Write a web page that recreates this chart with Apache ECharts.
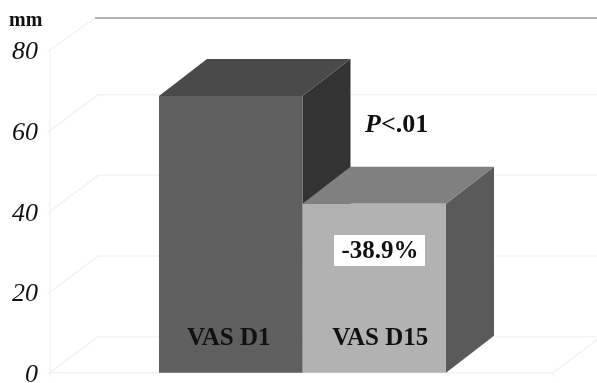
<!DOCTYPE html>
<html>
<head>
<meta charset="utf-8">
<style>html,body{margin:0;padding:0;background:#fff}#chart{width:597px;height:383px}</style>
<script src="https://cdn.jsdelivr.net/npm/echarts@6/dist/echarts.min.js"></script>
</head>
<body>
<div id="chart"></div>
<script>
// Visual analogue scale scores, day 1 against day 15
const categories = ['VAS D1', 'VAS D15'];
const vasValues = [68.6, 41.9];
const yTicks = [0, 20, 40, 60, 80];
const yUnit = 'mm';
const pValueLabel = ['P', '<.01'];
const changeLabel = '-38.9%';

const SERIF = '"Liberation Serif", "DejaVu Serif", serif';
const DEPTH_X = 48, DEPTH_Y = 37;
const WALL_LEFT_GAP = 109, WALL_RIGHT_GAP = 107;
const WALL = '#f3f3f3';
const faces = [
  { front: '#5f5f5f', top: '#4a4a4a', side: '#333333', text: '#111111' },
  { front: '#b2b2b2', top: '#808080', side: '#5a5a5a', text: '#111111' }
];

const poly = (points, fill) => ({
  type: 'polygon', shape: { points }, style: { fill }
});
const line = (x1, y1, x2, y2, stroke, width) => ({
  type: 'line',
  shape: { x1, y1, x2, y2 },
  style: { stroke, lineWidth: width || 1.5 }
});

// Back wall and floor: a receding line for each y tick
function renderWall(params, api) {
  const cs = params.coordSys;
  const left = cs.x - WALL_LEFT_GAP;
  const right = cs.x + cs.width + WALL_RIGHT_GAP;
  const v = api.value(1);
  const y = api.coord([0, v])[1];
  const isTop = v === yTicks[yTicks.length - 1];
  const dx = isTop ? 45 : 48, dy = isTop ? 32 : 36;
  const children = [
    line(left, y, left + dx, y - dy, WALL),
    line(left + dx, y - dy, 600, y - dy, isTop ? '#9a9a9a' : WALL, isTop ? 1.6 : 1.5)
  ];
  if (v === 0) {
    children.push(line(left, y, right, y, WALL));
    children.push(line(right, y, right + 48, y - 36, WALL));
    children.push(line(left, y, left, y + 4, WALL));
    children.push(line(right, y, right, y + 4, WALL));
  }
  return { type: 'group', children };
}

// A bar as three faces: front, top and right side
function renderBar(params, api) {
  const i = api.value(0);
  const base = api.coord([i, 0]);
  const top = api.coord([i, api.value(1)]);
  const w = api.size([1, 0])[0];
  const x0 = base[0] - w / 2, x1 = base[0] + w / 2;
  const y0 = base[1], y1 = top[1];
  const f = faces[i];
  return {
    type: 'group',
    children: [
      poly([[x1, y1], [x1 + DEPTH_X, y1 - DEPTH_Y], [x1 + DEPTH_X, y0 - DEPTH_Y], [x1, y0]], f.side),
      poly([[x0, y1], [x0 + DEPTH_X, y1 - DEPTH_Y], [x1 + DEPTH_X, y1 - DEPTH_Y], [x1, y1]], f.top),
      poly([[x0, y0], [x0, y1], [x1, y1], [x1, y0]], f.front),
      {
        type: 'text',
        style: {
          x: base[0] + (i === 0 ? -2 : 6), y: y0 - 34,
          text: categories[i],
          align: 'center', verticalAlign: 'middle',
          font: 'bold 25px ' + SERIF,
          fill: f.text
        }
      }
    ]
  };
}

const chart = echarts.init(document.getElementById('chart'), null, { renderer: 'canvas' });
chart.setOption({
  animation: false,
  backgroundColor: '#ffffff',
  grid: { left: 159, right: 151, top: 50, bottom: 10.3, outerBoundsMode: 'none' },
  xAxis: { type: 'category', data: categories, show: false },
  yAxis: {
    type: 'value', min: 0, max: 80, interval: 20,
    offset: WALL_LEFT_GAP,
    splitLine: { show: false },
    axisLine: { show: true, lineStyle: { color: WALL, width: 1.5 } },
    axisTick: { show: true, length: 3, lineStyle: { color: WALL, width: 1.5 } },
    axisLabel: {
      margin: 12,
      formatter: '{tick|{value}}',
      rich: {
        tick: {
          color: '#111111',
          fontFamily: SERIF, fontStyle: 'italic', fontSize: 26,
          padding: [5, 0, 0, 0]
        }
      },
      customValues: yTicks
    }
  },
  series: [
    {
      type: 'custom', z: 1, silent: true,
      renderItem: renderWall,
      data: yTicks.map(t => [0, t])
    },
    {
      type: 'custom', z: 2, silent: true,
      renderItem: renderBar,
      encode: { x: 0, y: 1 },
      data: vasValues.map((v, i) => [i, v])
    }
  ],
  graphic: [
    {
      type: 'text', z: 100, left: 9, top: 11,
      style: { text: yUnit, font: 'bold 20px ' + SERIF, fill: '#111111' }
    },
    {
      type: 'text', z: 100, x: 365, y: 125,
      style: {
        text: '{i|' + pValueLabel[0] + '}{b|' + pValueLabel[1] + '}',
        verticalAlign: 'middle',
        rich: {
          i: { font: 'italic bold 26px ' + SERIF, fill: '#111111' },
          b: { font: 'bold 26px ' + SERIF, fill: '#111111' }
        }
      }
    },
    {
      type: 'rect', z: 100,
      shape: { x: 334, y: 235, width: 91, height: 31 },
      style: { fill: '#ffffff' }
    },
    {
      type: 'text', z: 101, x: 380, y: 252,
      style: {
        text: changeLabel, align: 'center', verticalAlign: 'middle',
        font: 'bold 25px ' + SERIF, fill: '#111111'
      }
    }
  ]
});
</script>
</body>
</html>
